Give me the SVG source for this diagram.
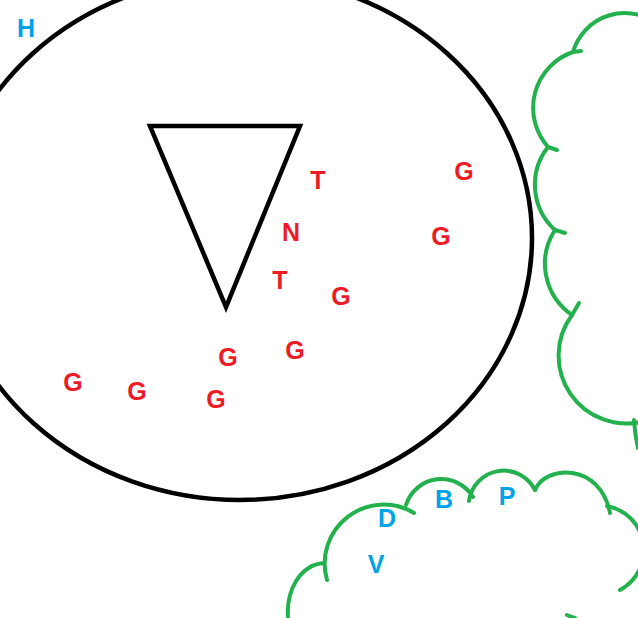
<svg xmlns="http://www.w3.org/2000/svg" width="638" height="618" viewBox="0 0 638 618">
<style>
.k{fill:none;stroke:#000;stroke-width:4.5;stroke-linejoin:miter}
.g{fill:none;stroke:#22B14C;stroke-width:4;stroke-linecap:round}
.t{font-family:"Liberation Sans",Arial,sans-serif;font-weight:bold;font-size:25px;text-anchor:middle}
.r{fill:#ED1C24}
.b{fill:#00A2E8}
</style>
<rect width="638" height="618" fill="#fff"/>
<g id="ellipse"><ellipse class="k" cx="240" cy="238" rx="292" ry="262"/></g>
<g id="triangle"><polygon class="k" points="150,126 300,126 226,307"/></g>
<g id="cloud-right">
<path class="g" d="M573,52 A54,54 0 0 1 660,26"/>
<path class="g" d="M581,51 L573,52"/>
<path class="g" d="M573,52 A59,59 0 0 0 548,147 L557,150"/>
<path class="g" d="M548,147 A61,61 0 0 0 555,230 L565,233"/>
<path class="g" d="M579,303 L572,315"/>
<path class="g" d="M555,230 A62,62 0 0 0 572,315"/>
<path class="g" d="M572,315 A68,68 0 0 0 645,421"/>
<path class="g" d="M634,420 Q635,435 638,448"/>
</g>
<g id="cloud-bottom">
<path class="g" d="M288,618 C286,590 300,565 324,563"/>
<path class="g" d="M327,580 A59,59 0 0 1 414,513"/>
<path class="g" d="M406,505 A37,37 0 0 1 473,497"/>
<path class="g" d="M469,501 A35,35 0 0 1 535,490"/>
<path class="g" d="M535,490 C545,465 600,462 610,513"/>
<path class="g" d="M607,506 A45,45 0 0 1 620,590"/>
<path class="g" d="M567,615 L575,618"/>
</g>
<g id="labels">
<text class="t b" x="26" y="37">H</text>
<text class="t r" x="318" y="189">T</text>
<text class="t r" x="291" y="241">N</text>
<text class="t r" x="280" y="289">T</text>
<text class="t r" x="464" y="180">G</text>
<text class="t r" x="441" y="245">G</text>
<text class="t r" x="341" y="305">G</text>
<text class="t r" x="295" y="359">G</text>
<text class="t r" x="228" y="366">G</text>
<text class="t r" x="73" y="391">G</text>
<text class="t r" x="137" y="400">G</text>
<text class="t r" x="216" y="408">G</text>
<text class="t b" x="387" y="527">D</text>
<text class="t b" x="444" y="508">B</text>
<text class="t b" x="507" y="505">P</text>
<text class="t b" x="376" y="573">V</text>
</g>
</svg>
